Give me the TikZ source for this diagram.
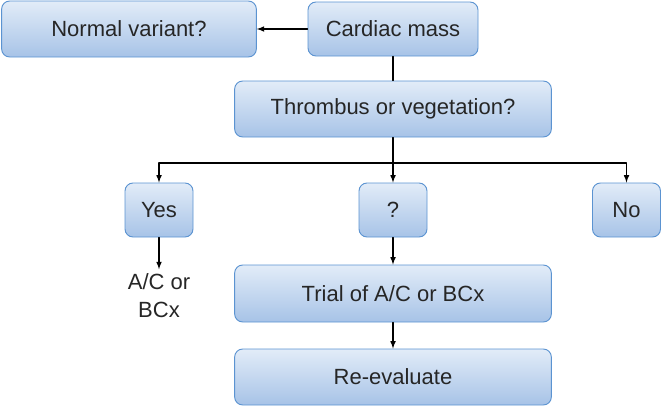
\documentclass[tikz,border=0pt]{standalone}
\usepackage{fontspec}
\setmainfont{Liberation Sans}
\definecolor{boxtop}{HTML}{E2ECF8}
\definecolor{boxbot}{HTML}{A7C3E7}
\definecolor{boxline}{HTML}{5B93D1}
\begin{document}
\begin{tikzpicture}[>=latex, x=0.75pt, y=-0.75pt, line cap=round, line join=round,
	box/.style={draw=boxline, line width=0.7pt, rounded corners=6pt, top color=boxtop, bottom color=boxbot, text=black!85, font=\fontsize{16.5}{19}\selectfont, inner sep=0pt},
	arr/.style={->, line width=0.9pt}]
				\useasboundingbox (0,0) rectangle (661,407);
				\node[box, minimum width=191pt, minimum height=42pt] (normal) at (129,29) {Normal variant?};
				\node[box, minimum width=127.5pt, minimum height=40.5pt] (mass) at (393,29) {Cardiac mass};
				\node[box, minimum width=237.5pt, minimum height=42pt] (thromb) at (393,109) {Thrombus or vegetation?};
				\node[box, minimum width=51pt, minimum height=40.5pt] (yes) at (159,210) {Yes};
				\node[box, minimum width=51pt, minimum height=40.5pt] (unsure) at (393,210) {?};
				\node[box, minimum width=51pt, minimum height=40.5pt] (no) at (626.5,210) {No};
				\node[text=black!85, font=\fontsize{16.5}{21}\selectfont, align=center] (ac) at (159,296) {A/C or\\BCx};
				\node[box, minimum width=237.5pt, minimum height=42.75pt] (trial) at (393,293.5) {Trial of A/C or BCx};
				\node[box, minimum width=237.5pt, minimum height=42pt] (reeval) at (393,377) {Re-evaluate};
				\coordinate (split) at (393,163);
				\draw[arr] (mass) -- (normal);
				\draw[line width=0.9pt] (mass) -- (thromb);
				\draw[line width=0.9pt] (thromb) -- (split);
				\draw[arr] (split) -- (unsure);
				\draw[arr] (split) -| (yes);
				\draw[arr] (split) -| (no);
				\draw[arr] (yes) -- (ac.north);
				\draw[arr] (unsure) -- (trial);
				\draw[arr] (trial) -- (reeval);
			\end{tikzpicture}
\end{document}
